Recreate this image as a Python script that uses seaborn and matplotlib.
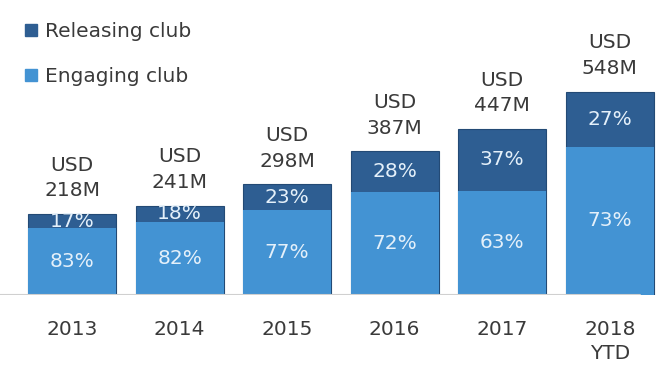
import matplotlib.pyplot as plt
import numpy as np
import pandas as pd
import seaborn as sns
from matplotlib.patches import Patch

years = ['2013', '2014', '2015', '2016', '2017', '2018\nYTD']
totals = [218, 241, 298, 387, 447, 548]
engaging_pct = [83, 82, 77, 72, 63, 73]
releasing_pct = [17, 18, 23, 28, 37, 27]

dark = '#2e5e92'
light = '#4393d3'
txt = '#3a3a3a'

df = pd.DataFrame({'year': years, 'total': totals,
                   'eng': np.array(totals) * np.array(engaging_pct) / 100})

sns.set_style('white')
plt.rcParams['font.family'] = ['DejaVu Sans']

fig = plt.figure(figsize=(6.7, 3.74), dpi=100)
ax = fig.add_axes([0, 0.211, 1, 0.789])

sns.barplot(data=df, x='year', y='total', color=dark, width=0.82,
            saturation=1, edgecolor='#234a75', linewidth=0.8, ax=ax)
sns.barplot(data=df, x='year', y='eng', color=light, width=0.82,
            saturation=1, edgecolor='none', linewidth=0, ax=ax)

fs = 14.5
for i, (t, e, r) in enumerate(zip(totals, engaging_pct, releasing_pct)):
    ax.text(i, t + 37, f'USD\n{t}M', ha='center', va='bottom', fontsize=fs,
            color=txt, linespacing=1.45)
    eh = t * e / 100
    ax.text(i, eh / 2, f'{e}%', ha='center', va='center', fontsize=fs, color='#e4f0fa')
    ax.text(i, eh + (t - eh) / 2, f'{r}%', ha='center', va='center', fontsize=fs,
            color='#e4f0fa')

ax.set_xlim(-0.67, 5.56)
ax.set_ylim(0, 795)
ax.axhline(0, xmin=0, xmax=0.955, color='#d0d0d0', lw=1.5)
sns.despine(ax=ax, left=True, bottom=True)
ax.set_yticks([])
ax.set_xlabel('')
ax.set_ylabel('')
ax.tick_params(axis='x', length=0, pad=18, labelsize=fs, labelcolor=txt)
for lab in ax.get_xticklabels():
    lab.set_linespacing(1.35)
    lab.set_verticalalignment('top')

handles = [Patch(color=dark, label='Releasing club'), Patch(color=light, label='Engaging club')]
fig.legend(handles=handles, loc='upper left', bbox_to_anchor=(0.037, 1 - 22 / 374),
           frameon=False, fontsize=fs, labelspacing=1.3, handlelength=0.6,
           handleheight=0.6, handletextpad=0.4, labelcolor=txt,
           borderaxespad=0, borderpad=0)

fig.savefig('out.png', dpi=100)
